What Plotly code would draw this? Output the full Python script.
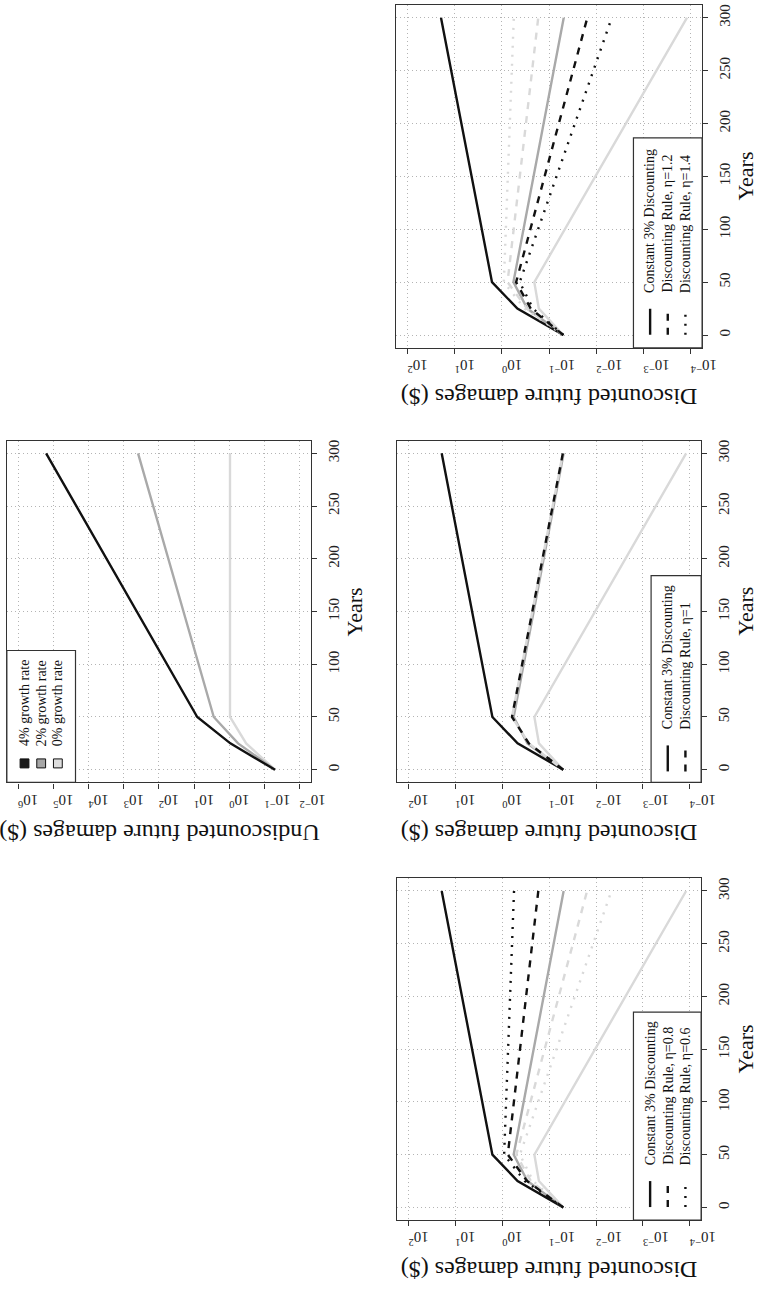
import plotly.graph_objects as go

W, H = 772, 1289

# ---------------- data ----------------
years = [0, 25, 50, 300]

# Undiscounted future damages ($)
undisc_g4 = [0.05, 0.93, 8.1, 1.6e5]
undisc_g2 = [0.05, 0.56, 2.75, 390]
undisc_g0 = [0.05, 0.33, 0.95, 0.95]

# Constant 3% discounting (4%, 2%, 0% growth)
const_g4 = [0.05, 0.47, 1.62, 19.5]
const_g2 = [0.05, 0.29, 0.57, 0.049]
const_g0 = [0.05, 0.165, 0.206, 1.2e-4]

# Discounting rule
rule_eta10 = [0.05, 0.27, 0.62, 0.051]
rule_eta12_g4 = [0.05, 0.245, 0.50, 0.0155]
rule_eta14_g4 = [0.05, 0.22, 0.42, 0.0047]
rule_eta12_g0 = [0.05, 0.295, 0.76, 0.17]
rule_eta14_g0 = [0.05, 0.33, 0.91, 0.56]
rule_eta08_g4 = [0.05, 0.295, 0.76, 0.17]
rule_eta06_g4 = [0.05, 0.33, 0.91, 0.56]
rule_eta08_g0 = [0.05, 0.245, 0.50, 0.0155]
rule_eta06_g0 = [0.05, 0.22, 0.42, 0.0047]

year_ticks = [0, 50, 100, 150, 200, 250, 300]
disc_ticks = [1e2, 1e1, 1e0, 1e-1, 1e-2, 1e-3, 1e-4]
disc_labels = ["10<sup>2</sup>", "10<sup>1</sup>", "10<sup>0</sup>", "10<sup>\u22121</sup>",
               "10<sup>\u22122</sup>", "10<sup>\u22123</sup>", "10<sup>\u22124</sup>"]
undisc_ticks = [1e6, 1e5, 1e4, 1e3, 1e2, 1e1, 1e0, 1e-1, 1e-2]
undisc_labels = ["10<sup>6</sup>", "10<sup>5</sup>", "10<sup>4</sup>", "10<sup>3</sup>",
                 "10<sup>2</sup>", "10<sup>1</sup>", "10<sup>0</sup>", "10<sup>\u22121</sup>",
                 "10<sup>\u22122</sup>"]

legend_12 = ["Constant 3% Discounting", "Discounting Rule, \u03b7=1.2", "Discounting Rule, \u03b7=1.4"]
legend_10 = ["Constant 3% Discounting", "Discounting Rule, \u03b7=1"]
legend_08 = ["Constant 3% Discounting", "Discounting Rule, \u03b7=0.8", "Discounting Rule, \u03b7=0.6"]
legend_growth = ["4% growth rate", "2% growth rate", "0% growth rate"]

# ---------------- style ----------------
BLACK = "#111111"
GRAY = "#a9a9a9"
LIGHT = "#d9d9d9"
FONT = "Liberation Serif"
LW = 2.4
DASH = "7px,7px"
DASH_OFF = "0px,7px,7px,0px"
DOT = "2px,7px"


def px(x):
    return x / W


def py(y):
    return 1 - y / H


fig = go.Figure()

# panel frames in pixels: (left, top, right, bottom)
panels = [
    dict(frame=(404, 4, 716, 347), rng=[2.24, -4.24], tv=disc_ticks, tt=disc_labels,
         ylab="Discounted future damages ($)", yearsx=760),
    dict(frame=(405, 440, 715, 782), rng=[2.24, -4.24], tv=disc_ticks, tt=disc_labels,
         ylab="Discounted future damages ($)", yearsx=760),
    dict(frame=(405, 878, 715, 1220), rng=[2.24, -4.24], tv=disc_ticks, tt=disc_labels,
         ylab="Discounted future damages ($)", yearsx=760),
    dict(frame=(7, 440, 317, 782), rng=[6.32, -2.32], tv=undisc_ticks, tt=undisc_labels,
         ylab="Undiscounted future damages ($)", yearsx=362),
]

series = [
    # panel 1: eta 1.2 / 1.4
    [(const_g0, LIGHT, "solid"), (const_g2, GRAY, "solid"), (const_g4, BLACK, "solid"),
     (rule_eta14_g0, LIGHT, DOT), (rule_eta12_g0, LIGHT, DASH),
     (rule_eta12_g4, BLACK, DASH), (rule_eta14_g4, BLACK, DOT)],
    # panel 2: eta 1
    [(const_g0, LIGHT, "solid"), (const_g2, GRAY, "solid"), (const_g4, BLACK, "solid"),
     (rule_eta10, LIGHT, DASH_OFF), (rule_eta10, BLACK, DASH)],
    # panel 3: eta 0.8 / 0.6
    [(const_g0, LIGHT, "solid"), (const_g2, GRAY, "solid"), (const_g4, BLACK, "solid"),
     (rule_eta06_g0, LIGHT, DOT), (rule_eta08_g0, LIGHT, DASH),
     (rule_eta08_g4, BLACK, DASH), (rule_eta06_g4, BLACK, DOT)],
    # panel 4: undiscounted
    [(undisc_g0, LIGHT, "solid"), (undisc_g2, GRAY, "solid"), (undisc_g4, BLACK, "solid")],
]

layout_axes = {}
annotations = []
shapes = []

for i, p in enumerate(panels):
    n = "" if i == 0 else str(i + 1)
    l, t, r, b = p["frame"]
    for vals, col, dash in series[i]:
        fig.add_trace(go.Scatter(x=vals, y=years, mode="lines", xaxis="x" + n, yaxis="y" + n,
                                 line=dict(color=col, width=LW, dash=dash), showlegend=False,
                                 hoverinfo="skip"))
    common = dict(showline=True, mirror=True, linecolor="#333333", linewidth=1.3,
                  ticks="outside", ticklen=5, tickcolor="#333333", tickwidth=1,
                  showgrid=True, gridcolor="#b4b4b4", gridwidth=1, griddash="1px,3px",
                  zeroline=False, tickfont=dict(family=FONT, size=15, color="#222222"))
    layout_axes["xaxis" + n] = dict(common, domain=[px(l), px(r)], anchor="y" + n, type="log",
                                    range=p["rng"], autorange=False, tickmode="array",
                                    tickvals=p["tv"], ticktext=p["tt"], tickangle=180,
                                    side="bottom", ticklabelstandoff=3)
    layout_axes["yaxis" + n] = dict(common, domain=[py(b), py(t)], anchor="x" + n,
                                    range=[-12, 312], autorange=False, tickmode="array",
                                    tickvals=year_ticks, ticktext=[str(v) for v in year_ticks],
                                    tickangle=-90, side="right", ticklabelstandoff=4)
    annotations.append(dict(text="Years", x=px(p["yearsx"]), y=py((t + b) / 2), xref="paper",
                            yref="paper", xanchor="center", yanchor="middle",
                            showarrow=False, textangle=-90,
                            font=dict(family=FONT, size=22, color="#111111")))
    annotations.append(dict(text=p["ylab"], x=px((l + r) / 2), y=py(b + 50), xref="paper",
                            yref="paper", xanchor="center", yanchor="middle",
                            showarrow=False, textangle=180,
                            font=dict(family=FONT, size=24, color="#111111")))


# ---------------- legends (drawn rotated) ----------------
def line_legend(box, xs, labels, dashes, sym, text_bottom):
    l, t, r, b = box
    shapes.append(dict(type="rect", xref="paper", yref="paper", x0=px(l), x1=px(r),
                       y0=py(b), y1=py(t), line=dict(color="#333333", width=1.2),
                       fillcolor="white", layer="above"))
    for x, lab, d in zip(xs, labels, dashes):
        shapes.append(dict(type="line", xref="paper", yref="paper", x0=px(x), x1=px(x),
                           y0=py(sym[1]), y1=py(sym[0]), layer="above",
                           line=dict(color=BLACK, width=LW, dash=d)))
        annotations.append(dict(text=lab, x=px(x), y=py(text_bottom), xref="paper", yref="paper",
                                xanchor="center", yanchor="bottom", showarrow=False,
                                textangle=-90, font=dict(family=FONT, size=14, color="#111111")))


line_legend((646, 137, 716, 347), [663, 681, 699], legend_12, ["solid", DASH, DOT], (308, 334), 294)
line_legend((664, 575, 715, 782), [681, 699], legend_10, ["solid", DASH], (745, 771), 731)
line_legend((646, 1012, 715, 1220), [663, 681, 699], legend_08, ["solid", DASH, DOT], (1181, 1207), 1167)

# growth legend (filled squares)
l, t, r, b = (7, 650, 77, 782)
shapes.append(dict(type="rect", xref="paper", yref="paper", x0=px(l), x1=px(r), y0=py(b), y1=py(t),
                   line=dict(color="#333333", width=1.2), fillcolor="white", layer="above"))
for x, lab, col in zip([25, 42, 59], legend_growth, ["#1a1a1a", "#a6a6a6", "#dedede"]):
    shapes.append(dict(type="rect", xref="paper", yref="paper", x0=px(x - 4.5), x1=px(x + 4.5),
                       y0=py(767.5), y1=py(758.5), line=dict(color="#111111", width=1),
                       fillcolor=col, layer="above"))
    annotations.append(dict(text=lab, x=px(x), y=py(748), xref="paper", yref="paper",
                            xanchor="center", yanchor="bottom", showarrow=False, textangle=-90,
                            font=dict(family=FONT, size=14, color="#111111")))

fig.update_layout(width=W, height=H, margin=dict(l=0, r=0, t=0, b=0),
                  paper_bgcolor="white", plot_bgcolor="white", showlegend=False,
                  annotations=annotations, shapes=shapes, **layout_axes)

fig.write_html("out.html")
